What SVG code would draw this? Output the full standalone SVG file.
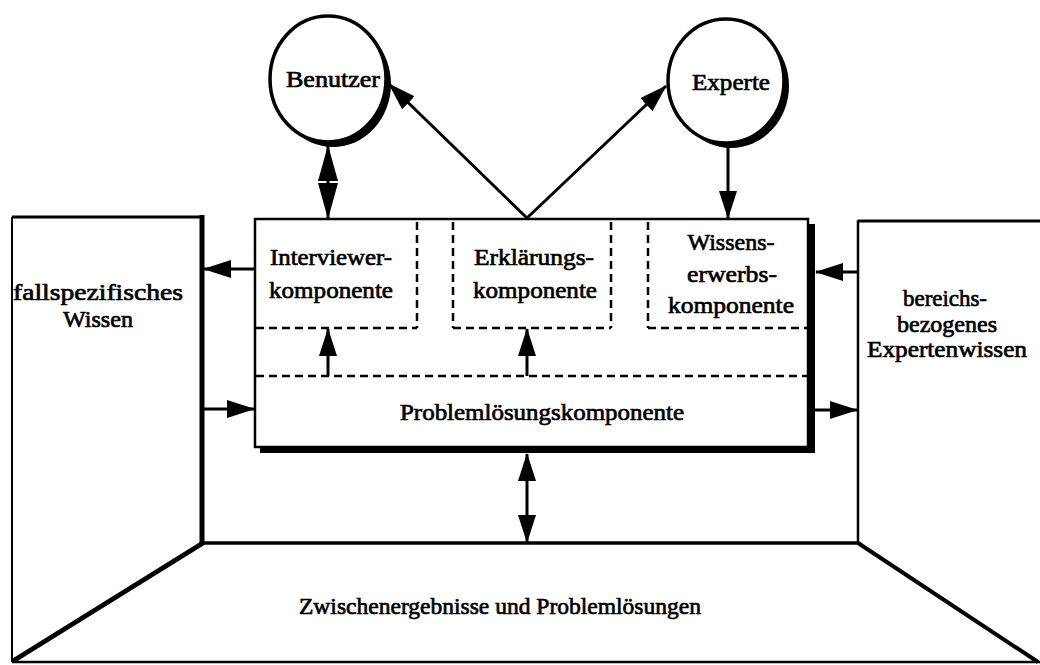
<svg xmlns="http://www.w3.org/2000/svg" width="1040" height="665" viewBox="0 0 1040 665">
  <style>
    .lbl { font-family: "Liberation Serif", "Times New Roman", Times, serif; font-size: 24px; fill: #000; stroke: #000; stroke-width: 0.7; text-anchor: middle; }
    .edge { fill: none; stroke: #000; stroke-linecap: butt; }
    .conn { fill: none; stroke: #000; stroke-width: 3; }
    .dash { fill: none; stroke: #000; stroke-width: 2.5; stroke-dasharray: 8 5; }
  </style>
  <defs>
    <marker id="head" viewBox="0 0 28 18" markerWidth="28" markerHeight="18" refX="27" refY="9" orient="auto-start-reverse" markerUnits="userSpaceOnUse">
      <path d="M0,0 L28,9 L0,18 Z" fill="#000"/>
    </marker>
    <marker id="headLong" viewBox="0 0 36 20" markerWidth="36" markerHeight="20" refX="35" refY="10" orient="auto-start-reverse" markerUnits="userSpaceOnUse">
      <path d="M0,0 L36,10 L0,20 Z" fill="#000"/>
    </marker>
  </defs>

  <rect x="0" y="0" width="1040" height="665" fill="#fff"/>

  <!-- room: left wall, floor, right wall -->
  <g id="fallspezifisches-wissen">
    <path class="edge" d="M12,217 L202,217" stroke-width="3"/>
    <path class="edge" d="M12,217 L12,662" stroke-width="2"/>
    <path class="edge" d="M202,215 L202,545" stroke-width="5"/>
    <path class="edge" d="M203,543 L13,661" stroke-width="5"/>
    <text class="lbl" x="98" y="300" textLength="170" lengthAdjust="spacingAndGlyphs">fallspezifisches</text>
    <text class="lbl" x="98" y="327" textLength="70" lengthAdjust="spacingAndGlyphs">Wissen</text>
  </g>

  <g id="zwischenergebnisse">
    <path class="edge" d="M202,543 L858,543" stroke-width="3.5"/>
    <path class="edge" d="M12,662 L1040,662" stroke-width="2.5"/>
    <text class="lbl" x="500" y="614" textLength="402" lengthAdjust="spacingAndGlyphs">Zwischenergebnisse und Problemlösungen</text>
  </g>

  <g id="bereichsbezogenes-expertenwissen">
    <path class="edge" d="M858,221 L1040,221" stroke-width="3"/>
    <path class="edge" d="M858,220 L858,543" stroke-width="2.5"/>
    <path class="edge" d="M858,543 L1038,662" stroke-width="4"/>
    <text class="lbl" x="945" y="306" textLength="84" lengthAdjust="spacingAndGlyphs">bereichs-</text>
    <text class="lbl" x="947" y="332" textLength="100" lengthAdjust="spacingAndGlyphs">bezogenes</text>
    <text class="lbl" x="947" y="357" textLength="160" lengthAdjust="spacingAndGlyphs">Expertenwissen</text>
  </g>

  <!-- central system box with drop shadow -->
  <g id="system">
    <rect x="260" y="224" width="555" height="229" fill="#000"/>
    <rect x="255" y="219" width="553" height="228" fill="#fff" stroke="#000" stroke-width="2.5"/>
    <path class="dash" d="M417,222 L417,328 M453,222 L453,328 M611,222 L611,328 M648,222 L648,328"/>
    <path class="dash" d="M256,328 L417,328 M453,328 L611,328 M648,328 L807,328"/>
    <path class="dash" d="M256,376 L807,376"/>
  </g>

  <g id="interviewerkomponente">
    <text class="lbl" x="331" y="265" textLength="122" lengthAdjust="spacingAndGlyphs">Interviewer-</text>
    <text class="lbl" x="331" y="298" textLength="124" lengthAdjust="spacingAndGlyphs">komponente</text>
  </g>
  <g id="erklaerungskomponente">
    <text class="lbl" x="534" y="265" textLength="120" lengthAdjust="spacingAndGlyphs">Erklärungs-</text>
    <text class="lbl" x="535" y="298" textLength="124" lengthAdjust="spacingAndGlyphs">komponente</text>
  </g>
  <g id="wissenserwerbskomponente">
    <text class="lbl" x="731" y="250" textLength="87" lengthAdjust="spacingAndGlyphs">Wissens-</text>
    <text class="lbl" x="732" y="282" textLength="90" lengthAdjust="spacingAndGlyphs">erwerbs-</text>
    <text class="lbl" x="731" y="313" textLength="126" lengthAdjust="spacingAndGlyphs">komponente</text>
  </g>
  <g id="problemloesungskomponente">
    <text class="lbl" x="542" y="420" textLength="284" lengthAdjust="spacingAndGlyphs">Problemlösungskomponente</text>
  </g>

  <!-- actors -->
  <g id="benutzer">
    <ellipse cx="333" cy="84" rx="58" ry="63" fill="#000"/>
    <ellipse cx="328" cy="79" rx="58" ry="63" fill="#fff" stroke="#000" stroke-width="3.5"/>
    <text class="lbl" x="333" y="87" textLength="94" lengthAdjust="spacingAndGlyphs">Benutzer</text>
  </g>
  <g id="experte">
    <ellipse cx="731" cy="86" rx="58" ry="62" fill="#000"/>
    <ellipse cx="726" cy="81" rx="58" ry="62" fill="#fff" stroke="#000" stroke-width="3.5"/>
    <text class="lbl" x="731" y="90" textLength="78" lengthAdjust="spacingAndGlyphs">Experte</text>
  </g>

  <!-- connectors -->
  <g id="connectors">
    <path class="conn" d="M328,146 L328,218" marker-start="url(#headLong)" marker-end="url(#headLong)"/>
    <path class="conn" d="M527,218 L389,84" marker-end="url(#head)"/>
    <path class="conn" d="M527,218 L666,86" marker-end="url(#head)"/>
    <path class="conn" d="M728,147 L728,218" marker-end="url(#head)"/>
    <path class="conn" d="M328,376 L328,329" marker-end="url(#head)"/>
    <path class="conn" d="M527,376 L527,329" marker-end="url(#head)"/>
    <path class="conn" d="M255,269 L204,269" marker-end="url(#head)"/>
    <path class="conn" d="M204,409 L254,409" marker-end="url(#head)"/>
    <path class="conn" d="M857,272 L816,272" marker-end="url(#head)"/>
    <path class="conn" d="M815,410 L857,410" marker-end="url(#head)"/>
    <path class="conn" d="M527,454 L527,542" marker-start="url(#head)" marker-end="url(#head)"/>
  </g>
</svg>
